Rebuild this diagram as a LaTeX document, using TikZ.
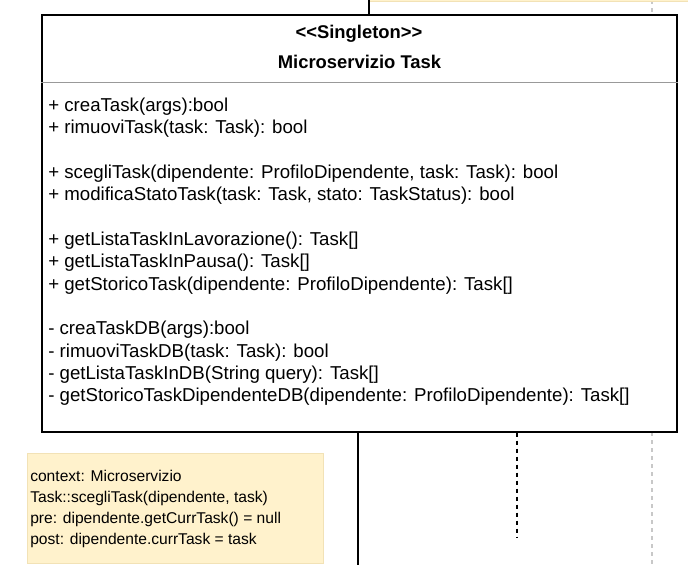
\documentclass[tikz,border=0pt]{standalone}
\usepackage{fontspec}
\setmainfont{Liberation Sans}
\usetikzlibrary{positioning, calc}

\definecolor{notefill}{HTML}{FFF2CC}
\definecolor{noteline}{HTML}{F2E2B6}
\definecolor{guide}{HTML}{C8C8C8}

\tikzset{
  classbox/.style={draw=black, line width=1.1pt, fill=white, inner sep=0pt},
  notebox/.style={draw=noteline, line width=0.6pt, fill=notefill, inner sep=0pt},
  header/.style={anchor=base, inner sep=0pt, font=\fontsize{13.8}{16}\selectfont\bfseries},
  member/.style={anchor=base west, inner sep=0pt, font=\fontsize{14}{16}\selectfont},
  notetext/.style={anchor=base west, inner sep=0pt, font=\fontsize{11.7}{14}\selectfont},
  lifeline/.style={draw=black, line width=1.1pt},
  activation/.style={draw=black, line width=1.1pt, dash pattern=on 3pt off 3pt},
  guideline/.style={draw=guide, line width=0.8pt, dash pattern=on 3pt off 3pt}
}

\begin{document}
\begin{tikzpicture}[x=0.75pt, y=-0.75pt]
  \useasboundingbox (0,0) rectangle (688,565);
  \clip (0,0) rectangle (688,565);

  % Background
  \coordinate (guidetop) at (652,0);
  \coordinate (guidebot) at (652,565);
  \draw[guideline] (guidetop) -- (guidebot);
  \node[notebox, minimum width=240pt, minimum height=15pt, anchor=south west] (topnote) at (369,1.5) {};

  % Class
  \node[classbox, minimum width=476.25pt, minimum height=312.75pt] (cls) at (359.5,223.5) {};
  \draw[draw=gray!80, line width=0.7pt] (cls.west |- 0,82) -- (cls.east |- 0,82);
  \node[header] (stereo) at (359,38) {<\kern0pt<Singleton>\kern0pt>};
  \node[header] (title) at (359.5,68) {Microservizio Task};

  \foreach \row/\txt in {0/{+ creaTask(args):bool},
                         1/{+ rimuoviTask(task: Task): bool},
                         3/{+ scegliTask(dipendente: ProfiloDipendente, task: Task): bool},
                         4/{+ modificaStatoTask(task: Task, stato: TaskStatus): bool},
                         6/{+ getListaTaskInLavorazione(): Task[]},
                         7/{+ getListaTaskInPausa(): Task[]},
                         8/{+ getStoricoTask(dipendente: ProfiloDipendente): Task[]},
                         10/{- creaTaskDB(args):bool},
                         11/{- rimuoviTaskDB(task: Task): bool},
                         12/{- getListaTaskInDB(String query): Task[]},
                         13/{- getStoricoTaskDipendenteDB(dipendente: ProfiloDipendente): Task[]}}
    \node[member] (m\row) at (48,111+22.38*\row) {\txt};

  % Lifelines
  \coordinate (topend) at (369,0);
  \coordinate (solidend) at (358,565);
  \coordinate (dashend) at (517,538);
  \draw[lifeline] (topend) -- (topend |- cls.north);
  \draw[lifeline] (cls.south -| solidend) -- (solidend);
  \draw[activation] (cls.south -| dashend) -- (dashend);

  % Note
  \node[notebox, minimum width=222pt, minimum height=82.5pt] (note) at (175,508) {};
  \foreach \row/\txt in {0/{context: Microservizio},
                         1/{Task::scegliTask(dipendente, task)},
                         2/{pre: dipendente.getCurrTask() = null},
                         3/{post: dipendente.currTask = task}}
    \node[notetext] (n\row) at (30,481+21*\row) {\txt};
\end{tikzpicture}
\end{document}
